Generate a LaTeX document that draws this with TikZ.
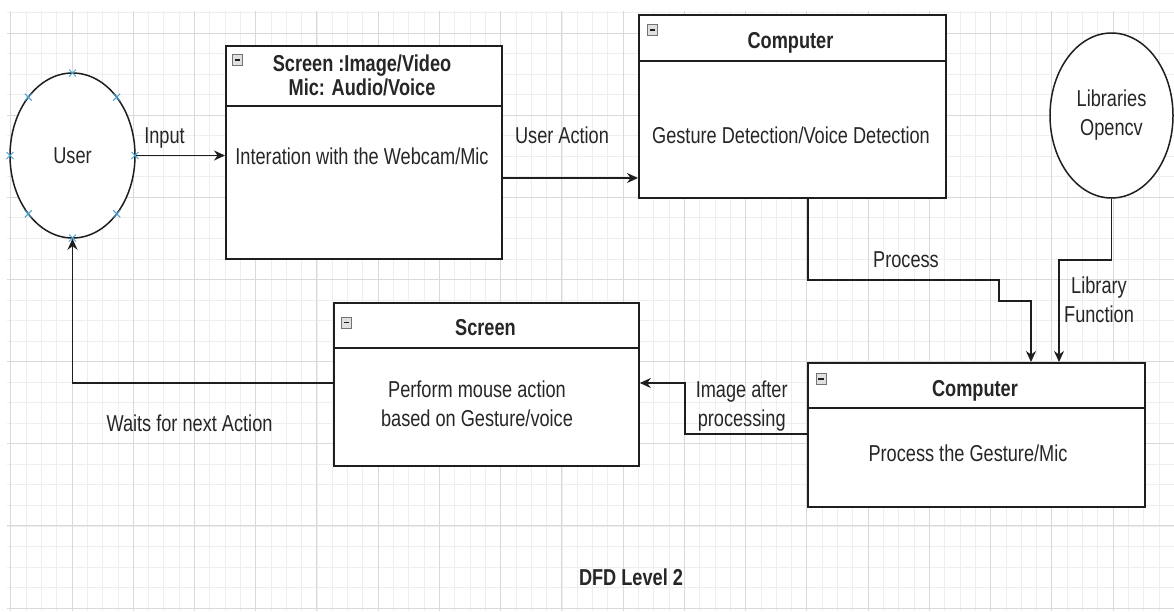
\documentclass[tikz,border=0pt]{standalone}
\usepackage{fontspec}
\setmainfont{Liberation Sans}[FakeStretch=0.79]
\usetikzlibrary{arrows.meta,shapes.geometric}
\definecolor{gmajor}{HTML}{D9D9D9}
\definecolor{gminor}{HTML}{EEEEEE}
\definecolor{ink}{HTML}{1E1E1E}
\definecolor{txt}{HTML}{262626}
\definecolor{markblue}{HTML}{4AA3D6}
\tikzset{
  minusicon/.pic={
    \draw[draw=black!55, fill=black!12, line width=0.8pt] (-5,-5.5) rectangle (5,5.5);
    \draw[ink, line width=1.5pt] (-2.7,0) -- (2.7,0);
  }
}
\begin{document}
\begin{tikzpicture}[x=1pt,y=-1pt,
  font=\fontsize{23}{29}\selectfont,
  box/.style={draw=ink, line width=1.8pt, fill=white, anchor=north west, inner sep=0pt},
  circ/.style={ellipse, draw=ink, line width=1.5pt, fill=white, inner sep=0pt,
               minimum width=125pt, minimum height=165pt, text=txt, align=center},
  lbl/.style={text=txt, anchor=base, inner sep=0pt},
  ttl/.style={lbl, font=\fontsize{23}{24}\selectfont\bfseries, align=center},
  flow/.style={draw=ink, line width=1.6pt, -{Stealth[length=11pt,width=10pt]}},
  sep/.style={draw=ink, line width=1.8pt},
  mk/.style={draw=markblue, line width=1pt},
  minorline/.style={draw=gminor, line width=0.8pt},
  majorline/.style={draw=gmajor, line width=1pt}
]
\fill[white] (0,0) rectangle (1174,611);
\useasboundingbox (0,0) rectangle (1174,611);
% grid
\begin{scope}
  \clip (7,11) rectangle (1174,611);
  \foreach \k in {0,...,76} \draw[minorline] ({10.76+15.31*\k},0) -- ({10.76+15.31*\k},611);
  \foreach \k in {0,...,29} \draw[minorline] (0,{12.46+20.54*\k}) -- (1174,{12.46+20.54*\k});
  \foreach \k in {0,...,19} \draw[majorline] ({10.76+61.24*\k},0) -- ({10.76+61.24*\k},611);
  \foreach \k in {0,...,7} \draw[majorline] (0,{33+82.15*\k}) -- (1174,{33+82.15*\k});
\end{scope}

% external entities
\node[circ] (user) at (72.5,155.5) {User};
\node[circ, minimum width=123pt] (lib) at (1111.5,115.5) {Libraries\\Opencv};
\foreach \dx/\dy in {0/-82.5, 0/82.5, -62.5/0, 62.5/0, -44.2/-58.3, 44.2/-58.3, -44.2/58.3, 44.2/58.3}
  \draw[mk] ([shift={(\dx,\dy)}]user.center) +(-3.5,-3.5) -- +(3.5,3.5) +(-3.5,3.5) -- +(3.5,-3.5);

% process boxes
\node[box, minimum width=276pt, minimum height=213pt] (b1) at (225,45) {};
\node[box, minimum width=307pt, minimum height=183pt] (b2) at (638,14) {};
\node[box, minimum width=305pt, minimum height=163pt] (b4) at (333,302) {};
\node[box, minimum width=337pt, minimum height=144pt] (b3) at (807,362) {};
\draw[sep] (b1.west |- 0,106) -- (b1.east |- 0,106);
\draw[sep] (b2.west |- 0,61) -- (b2.east |- 0,61);
\draw[sep] (b4.west |- 0,348) -- (b4.east |- 0,348);
\draw[sep] (b3.west |- 0,408) -- (b3.east |- 0,408);
\pic at (237.7,60) {minusicon};
\pic at (652.5,30) {minusicon};
\pic at (346.5,322.5) {minusicon};
\pic at (821,379) {minusicon};

% box texts (base = baseline of the last line)
\node[ttl] (b1t) at (362,95.5) {Screen :Image/Video\\Mic: Audio/Voice};
\node[lbl] (b1b) at (362,164) {Interation with the Webcam/Mic};
\node[ttl] (b2t) at (790.5,48) {Computer};
\node[lbl] (b2b) at (791,143) {Gesture Detection/Voice Detection};
\node[ttl] (b4t) at (485.5,335) {Screen};
\node[lbl, align=center] (b4b) at (477,426.5) {Perform mouse action\\based on Gesture/voice};
\node[ttl] (b3t) at (975,396.7) {Computer};
\node[lbl] (b3b) at (968,461.7) {Process the Gesture/Mic};

% flows
\draw[flow] (user.east) -- (user.east -| b1.west);
\draw[flow] (b1.east |- 0,178) -- (b2.west |- 0,178);
\draw[flow] (b2.south -| 808,0) -- (808,280) -- (999,280) -- (999,301) -- (1031,301) -- (b3.north -| 1031,0);
\draw[flow] (lib.south) -- (lib.south |- 0,260) -- (1059,260) -- (b3.north -| 1059,0);
\draw[flow] (b3.west |- 0,434) -- (685,434) -- (685,383) -- (b4.east |- 0,383);
\draw[flow] (b4.west |- 0,383) -- (user.south |- 0,383) -- (user.south);

% flow labels
\node[lbl] (l1) at (164.5,143) {Input};
\node[lbl] (l2) at (562,143.3) {User Action};
\node[lbl] (l3) at (906,267) {Process};
\node[lbl, align=center] (l4) at (1099,322) {Library\\Function};
\node[lbl, align=center] (l5) at (741.7,426.5) {Image after\\processing};
\node[lbl] (l6) at (189.5,431) {Waits for next Action};

% caption
\node[lbl, font=\fontsize{23}{29}\selectfont\bfseries] (cap) at (631,585) {DFD Level 2};
\end{tikzpicture}
\end{document}
